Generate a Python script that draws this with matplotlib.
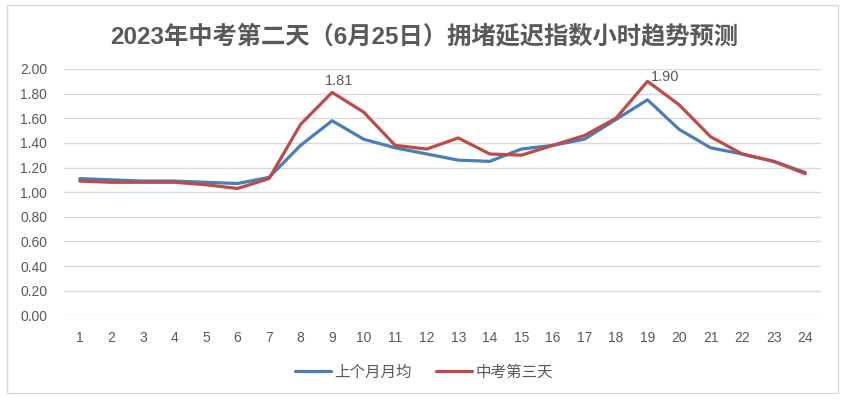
import matplotlib
matplotlib.use("Agg")
import matplotlib.pyplot as plt
from matplotlib.patches import Rectangle

hours = list(range(1, 25))
last_month_avg = [1.11, 1.10, 1.09, 1.09, 1.08, 1.07, 1.12, 1.38, 1.58, 1.43, 1.36, 1.31,
                  1.26, 1.25, 1.35, 1.38, 1.43, 1.59, 1.75, 1.51, 1.36, 1.31, 1.25, 1.16]
exam_day = [1.09, 1.08, 1.08, 1.08, 1.06, 1.03, 1.11, 1.55, 1.81, 1.65, 1.38, 1.35,
            1.44, 1.31, 1.30, 1.38, 1.46, 1.60, 1.90, 1.71, 1.45, 1.31, 1.25, 1.15]
series_names = ["上个月月均", "中考第三天"]
title = "2023年中考第二天（6月25日）拥堵延迟指数小时趋势预测"
y_ticks = [0.0, 0.2, 0.4, 0.6, 0.8, 1.0, 1.2, 1.4, 1.6, 1.8, 2.0]
labelled_points = [(9, 1.81), (19, 1.90)]

plt.rcParams['font.family'] = ['Liberation Sans', 'Noto Sans CJK SC', 'DejaVu Sans']

fig = plt.figure(figsize=(8.48, 4.0), dpi=100)
ax = fig.add_axes([64/848, 1-315.3/400, (821-64)/848, (315.3-69)/400])

blue = "#4A7EBB"
red = "#BE4B48"
txt = "#595959"

ax.plot(hours, last_month_avg, color=blue, lw=2.3, label=series_names[0], solid_capstyle='round', zorder=3)
ax.plot(hours, exam_day, color=red, lw=2.3, label=series_names[1], solid_capstyle='round', zorder=4)

offsets = {9: (4.8, 8.4), 19: (12.5, 3.3)}
for (x, v) in labelled_points:
    ax.annotate(f"{v:.2f}", (x, v), xytext=offsets[x], textcoords='offset points',
                ha='center', va='center', fontsize=10.5, color=txt)

ax.set_xlim(0.5, 24.5)
ax.set_ylim(0, 2.0)
ax.set_yticks(y_ticks)
ax.set_yticklabels([f"{v:.2f}" for v in y_ticks])
ax.set_xticks(hours)
ax.set_xticklabels([str(h) for h in hours])
ax.tick_params(axis='both', length=0, labelsize=10, labelcolor=txt)
ax.tick_params(axis='y', pad=12)
ax.tick_params(axis='x', pad=11)
ax.grid(axis='y', color="#D9D9D9", lw=1)
ax.set_axisbelow(True)
for s in ax.spines.values():
    s.set_visible(False)

fig.text(0.5, 1-37/400, title, ha='center', va='center', fontsize=17.5, fontweight='bold',
         color=txt, family=['Liberation Sans', 'Noto Sans CJK SC'])

leg = fig.legend(loc='center', bbox_to_anchor=(0.5, 1-372/400), ncol=2, frameon=False,
                 handlelength=2.3, columnspacing=1.6, handletextpad=0.2,
                 prop={'family': ['Noto Sans CJK SC'], 'size': 11.2})
for t in leg.get_texts():
    t.set_color(txt)

fig.patches.append(Rectangle((7/848, 1-393/400), (838-7)/848, (393-5)/400,
                             transform=fig.transFigure, fill=False, edgecolor="#D9D9D9", lw=1))

fig.savefig("out.png", dpi=100)
